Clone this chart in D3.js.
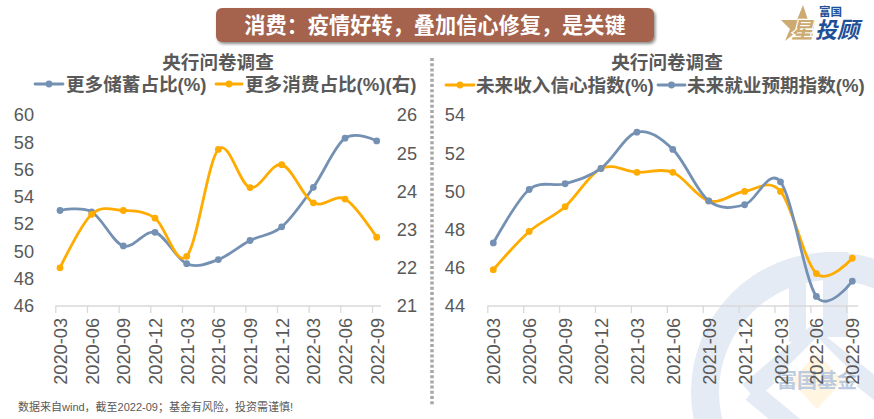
<!DOCTYPE html>
<html>
<head>
<meta charset="utf-8">
<script src="https://cdnjs.cloudflare.com/ajax/libs/d3/7.8.5/d3.min.js"></script>
<style>
  html, body { margin: 0; padding: 0; background: #fff; overflow: hidden; }
  text { font-family: "Liberation Sans", "Noto Sans CJK SC", sans-serif; fill: #595959; }
  .cjk { font-family: "Liberation Sans", "Noto Sans CJK SC", sans-serif; font-weight: 700; }
</style>
</head>
<body>
<div id="vis"></div>
<script>
var quarters = ["2020-03", "2020-06", "2020-09", "2020-12", "2021-03", "2021-06",
                "2021-09", "2021-12", "2022-03", "2022-06", "2022-09"];

// left panel
var savingShare = [53.0, 52.9, 50.4, 51.4, 49.1, 49.4, 50.8, 51.8, 54.7, 58.3, 58.1];
var spendingShare = [22.0, 23.4, 23.5, 23.3, 22.3, 25.1, 24.1, 24.7, 23.7, 23.8, 22.8];
var savingTicks = [46, 48, 50, 52, 54, 56, 58, 60];
var spendingTicks = [21, 22, 23, 24, 25, 26];

// right panel
var incomeIndex = [45.9, 47.9, 49.2, 51.2, 51.0, 51.0, 49.5, 50.0, 50.0, 45.7, 46.5];
var jobsIndex = [47.3, 50.1, 50.4, 51.2, 53.1, 52.2, 49.5, 49.3, 50.5, 44.5, 45.3];
var indexTicks = [44, 46, 48, 50, 52, 54];

var BLUE = "#7491b4", ORANGE = "#ffab00";
var TOP = 115, BOTTOM = 306;

var svg = d3.select("#vis").append("svg").attr("width", 874).attr("height", 419);

drawWatermark();
drawHeader();

// left panel scales
var x1 = d3.scalePoint().domain(quarters).range([60, 376.7]);
var yLeft = d3.scaleLinear().domain([46, 60]).range([BOTTOM, TOP]);
var yRight = d3.scaleLinear().domain([21, 26]).range([BOTTOM, TOP]);

drawXAxis(x1, 55.3, 381);
drawYAxis(yLeft, savingTicks, 34);
drawYAxis(yRight, spendingTicks, 417);
drawSeries(savingShare, x1, yLeft, BLUE);
drawSeries(spendingShare, x1, yRight, ORANGE);

// right panel scales
var x2 = d3.scalePoint().domain(quarters).range([493.3, 852.3]);
var yIndex = d3.scaleLinear().domain([44, 54]).range([BOTTOM, TOP]);

drawXAxis(x2, 487.3, 858.3);
drawYAxis(yIndex, indexTicks, 465);
drawSeries(incomeIndex, x2, yIndex, ORANGE);
drawSeries(jobsIndex, x2, yIndex, BLUE);

// panel titles and legends
svg.append("text").attr("class", "cjk").attr("x", 218).attr("y", 68.5)
  .attr("text-anchor", "middle").style("font-size", "18.6px").text("央行问卷调查");
svg.append("text").attr("class", "cjk").attr("x", 667).attr("y", 68.5)
  .attr("text-anchor", "middle").style("font-size", "18.6px").text("央行问卷调查");

legendItem(35, 63, 66, 84, BLUE, "更多储蓄占比(%)");
legendItem(216, 242, 245, 84, ORANGE, "更多消费占比(%)(右)");
legendItem(446, 474, 476, 85, ORANGE, "未来收入信心指数(%)");
legendItem(658, 685, 687, 85, BLUE, "未来就业预期指数(%)");

// dotted divider between the panels
svg.append("line").attr("x1", 432).attr("x2", 432).attr("y1", 58).attr("y2", 405)
  .attr("stroke", "#a6a6a6").attr("stroke-width", 3.5).attr("stroke-dasharray", "3 2.2");

svg.append("text").attr("x", 18).attr("y", 411).style("font-size", "11px")
  .text("数据来自wind，截至2022-09；基金有风险，投资需谨慎!");

function drawXAxis(x, start, end) {
  // tick marks sit left of the points, so they get a scale of their own
  var step = x.step();
  var tickX = d3.scalePoint().domain(quarters).range([start, start + step * (quarters.length - 1)]);

  var ticks = svg.append("g").attr("transform", "translate(0," + BOTTOM + ")")
    .call(d3.axisBottom(tickX).tickSize(7).tickSizeOuter(0).tickFormat(""));
  ticks.select(".domain").remove();
  ticks.selectAll("line").attr("stroke", "#d9d9d9").attr("stroke-width", 1.3);

  svg.append("line").attr("x1", start).attr("x2", end).attr("y1", BOTTOM).attr("y2", BOTTOM)
    .attr("stroke", "#d9d9d9").attr("stroke-width", 1.3);

  var labels = svg.append("g").attr("transform", "translate(0," + BOTTOM + ")")
    .call(d3.axisBottom(x).tickSize(0).tickPadding(0));
  labels.select(".domain").remove();
  labels.selectAll("text")
    .attr("transform", "translate(0,12) rotate(-90)")
    .attr("x", 0).attr("y", 0).attr("dy", "0.36em")
    .style("text-anchor", "end")
    .style("font-family", null)
    .style("font-size", "18.2px");
}

function drawYAxis(y, ticks, right) {
  var axis = svg.append("g").attr("transform", "translate(" + right + ",0)")
    .call(d3.axisLeft(y).tickValues(ticks).tickFormat(d3.format("d")).tickSize(0).tickPadding(0));
  axis.select(".domain").remove();
  axis.selectAll("text").style("font-size", "18.2px").style("font-family", null);
}

function drawSeries(values, x, y, color) {
  var line = d3.line()
    .x(function(d, i) { return x(quarters[i]); })
    .y(function(d) { return y(d); })
    .curve(d3.curveCatmullRom.alpha(0));

  svg.append("path").datum(values)
    .attr("d", line).attr("fill", "none")
    .attr("stroke", color).attr("stroke-width", 2.8).attr("stroke-linecap", "round");

  svg.append("g").selectAll("circle").data(values).enter().append("circle")
    .attr("cx", function(d, i) { return x(quarters[i]); })
    .attr("cy", function(d) { return y(d); })
    .attr("r", 3.4).attr("fill", color);
}

function legendItem(x0, x1, textX, cy, color, label) {
  svg.append("line").attr("x1", x0).attr("x2", x1).attr("y1", cy).attr("y2", cy)
    .attr("stroke", color).attr("stroke-width", 2.8).attr("stroke-linecap", "round");
  svg.append("circle").attr("cx", (x0 + x1) / 2).attr("cy", cy).attr("r", 3.4).attr("fill", color);
  svg.append("text").attr("class", "cjk").attr("x", textX).attr("y", cy + 6.5)
    .style("font-size", "18.6px").text(label);
}

function drawHeader() {
  var defs = svg.append("defs");
  var shadow = defs.append("filter").attr("id", "shadow")
    .attr("x", "-5%").attr("y", "-20%").attr("width", "110%").attr("height", "150%");
  shadow.append("feDropShadow").attr("dx", 1.5).attr("dy", 2).attr("stdDeviation", 1.5)
    .attr("flood-color", "#000").attr("flood-opacity", 0.45);

  svg.append("rect").attr("x", 216).attr("y", 8).attr("width", 438).attr("height", 34).attr("rx", 6)
    .attr("fill", "#a5634d").attr("filter", "url(#shadow)");
  svg.append("text").attr("x", 435).attr("y", 33).attr("text-anchor", "middle")
    .style("font-size", "21.2px").style("font-weight", 700).style("fill", "#fff")
    .text("消费：疫情好转，叠加信心修复，是关键");

  // logo: star, then the tan character with a white halo, then the blue text
  svg.append("path").attr("fill", "#cdaa70")
    .attr("d", "M803,5 L808,20 L815,20 L812,38 L795,33 L785,41 L790,29 L781,20 L797,20 Z");
  svg.append("text").attr("x", 791).attr("y", 38)
    .style("font-size", "22px").style("font-weight", 700).style("font-style", "italic")
    .style("fill", "#cdaa70").style("paint-order", "stroke")
    .attr("stroke", "#fff").attr("stroke-width", 2.5).text("星");
  svg.append("text").attr("x", 815).attr("y", 38).style("font-size", "22px").style("font-weight", 700)
    .style("font-style", "italic").style("fill", "#1f4f96").text("投顾");
  svg.append("text").attr("x", 819).attr("y", 16).style("font-size", "11.5px").style("font-weight", 700)
    .style("fill", "#1f4f96").text("富国");
}

function drawWatermark() {
  var wash = "#e5ebf5";
  var mark = svg.append("g");

  mark.append("path").attr("fill", wash)
    .attr("d", d3.arc()({ innerRadius: 112, outerRadius: 140, startAngle: 0, endAngle: 2 * Math.PI }))
    .attr("transform", "translate(831,392)");

  mark.append("rect").attr("x", 789).attr("y", 282).attr("width", 17).attr("height", 60).attr("fill", wash);
  mark.append("rect").attr("x", 823).attr("y", 252).attr("width", 25).attr("height", 85).attr("fill", wash);

  // chevrons around the central diamond
  mark.append("path").attr("fill", "none").attr("stroke", wash).attr("stroke-width", 20)
    .attr("d", "M749,392 L812,338 L890,400");
  mark.append("path").attr("fill", "none").attr("stroke", wash).attr("stroke-width", 20)
    .attr("d", "M752,392 L800,432");
  mark.append("path").attr("fill", "#fff").attr("d", "M817,337 L861,381 L817,425 L773,381 Z");
  mark.append("path").attr("fill", "#fff5e0").attr("d", "M817,353 L843,381 L817,409 L791,381 Z");

  mark.append("text").attr("x", 817).attr("y", 388).attr("text-anchor", "middle")
    .style("font-size", "20px").style("font-weight", 700).style("fill", "#bccbe0").text("富国基金");
}
</script>
</body>
</html>
